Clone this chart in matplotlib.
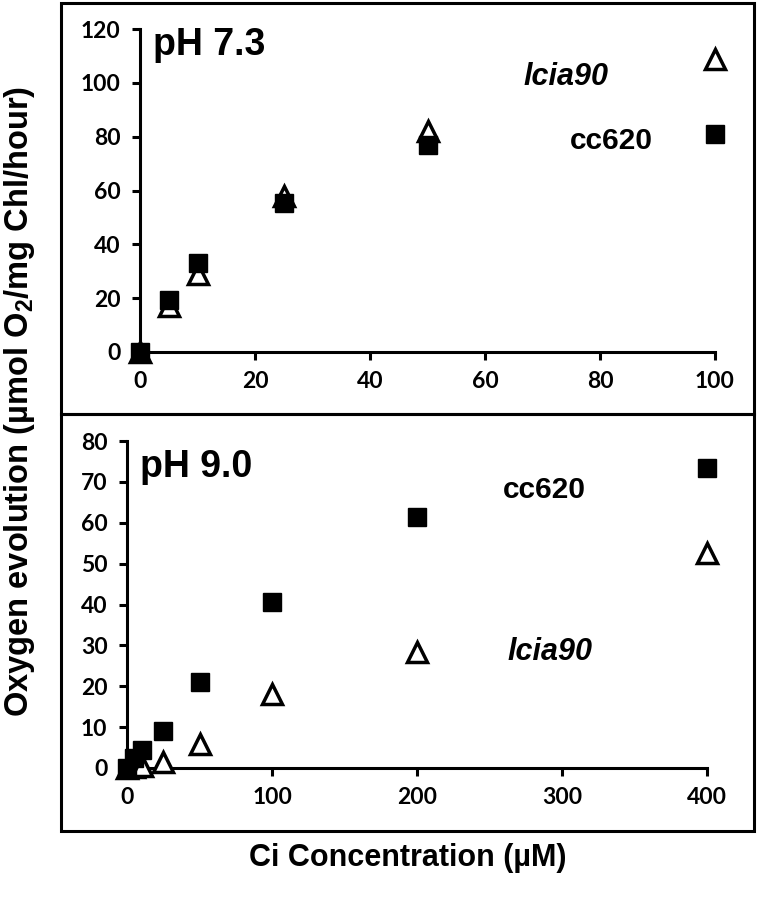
import matplotlib
matplotlib.use('Agg')
import matplotlib.pyplot as plt
from matplotlib.patches import Rectangle

# pH 7.3 panel
ci_73 = [0, 5, 10, 25, 50, 100]
cc620_73 = [0, 19.5, 33, 55.5, 77, 81]
lcia90_73 = [0, 17, 29, 58, 82, 109]

# pH 9.0 panel
ci_90 = [0, 5, 10, 25, 50, 100, 200, 400]
cc620_90 = [0, 2.5, 4.5, 9, 21, 40.5, 61.5, 73.5]
lcia90_90 = [0, 0.3, 0.5, 1.5, 5.8, 18, 28.5, 52.5]

plt.rcParams['mathtext.default'] = 'regular'
TXT = 'Liberation Sans'
TICK = 'Lato'

fig = plt.figure(figsize=(7.59, 9.02), dpi=100)

# panel frames
for y0, y1 in [(3, 414), (414, 831)]:
    fig.patches.append(Rectangle((61 / 759, 1 - y1 / 902), (754 - 61) / 759, (y1 - y0) / 902,
                                 transform=fig.transFigure, fill=False, lw=2.2, ec='black'))


def style(ax, xmax, ymax, xstep, ystep):
    ax.set_xlim(0, xmax)
    ax.set_ylim(0, ymax)
    ax.set_xticks(range(0, xmax + 1, xstep))
    ax.set_yticks(range(0, ymax + 1, ystep))
    for s in ['top', 'right']:
        ax.spines[s].set_visible(False)
    for s in ['left', 'bottom']:
        ax.spines[s].set_linewidth(2.2)
    ax.tick_params(width=2.2, length=6, labelsize=16.5, pad=8)
    for lab in ax.get_xticklabels() + ax.get_yticklabels():
        lab.set_family(TICK)
        lab.set_weight('bold')
    ax.set_facecolor('none')


ax1 = fig.add_axes([140 / 759, 1 - 352 / 902, 575 / 759, 323 / 902])
ax1.plot(ci_73, lcia90_73, '^', ms=14, mfc='white', mec='black', mew=2.5, clip_on=False, zorder=3)
ax1.plot(ci_73, cc620_73, 's', ms=13, color='black', clip_on=False, zorder=4)
style(ax1, 100, 120, 20, 20)
ax1.text(2.3, 114, 'pH 7.3', family=TXT, weight='bold', fontsize=27, va='center', ha='left')
ax1.text(74, 102, 'lcia90', family=TXT, weight='bold', style='italic', fontsize=22, va='center', ha='center')
ax1.text(82, 78.5, 'cc620', family=TXT, weight='bold', fontsize=21.5, va='center', ha='center')

ax2 = fig.add_axes([127 / 759, 1 - 768 / 902, 580 / 759, 327 / 902])
ax2.plot(ci_90, lcia90_90, '^', ms=14, mfc='white', mec='black', mew=2.5, clip_on=False, zorder=3)
ax2.plot(ci_90, cc620_90, 's', ms=13, color='black', clip_on=False, zorder=4)
style(ax2, 400, 80, 100, 10)
ax2.text(9, 73.6, 'pH 9.0', family=TXT, weight='bold', fontsize=27, va='center', ha='left')
ax2.text(288, 68, 'cc620', family=TXT, weight='bold', fontsize=21.5, va='center', ha='center')
ax2.text(292, 28.4, 'lcia90', family=TXT, weight='bold', style='italic', fontsize=22, va='center', ha='center')

fig.text(408 / 759, 1 - 858 / 902, 'Ci Concentration (µM)', family=TXT, weight='bold',
         fontsize=22, ha='center', va='center')
fig.text(20 / 759, 1 - 401 / 902, 'Oxygen evolution (µmol O$_2$/mg Chl/hour)', family=TXT,
         weight='bold', fontsize=23.5, ha='center', va='center', rotation=90)

fig.savefig('out.png', dpi=100)
